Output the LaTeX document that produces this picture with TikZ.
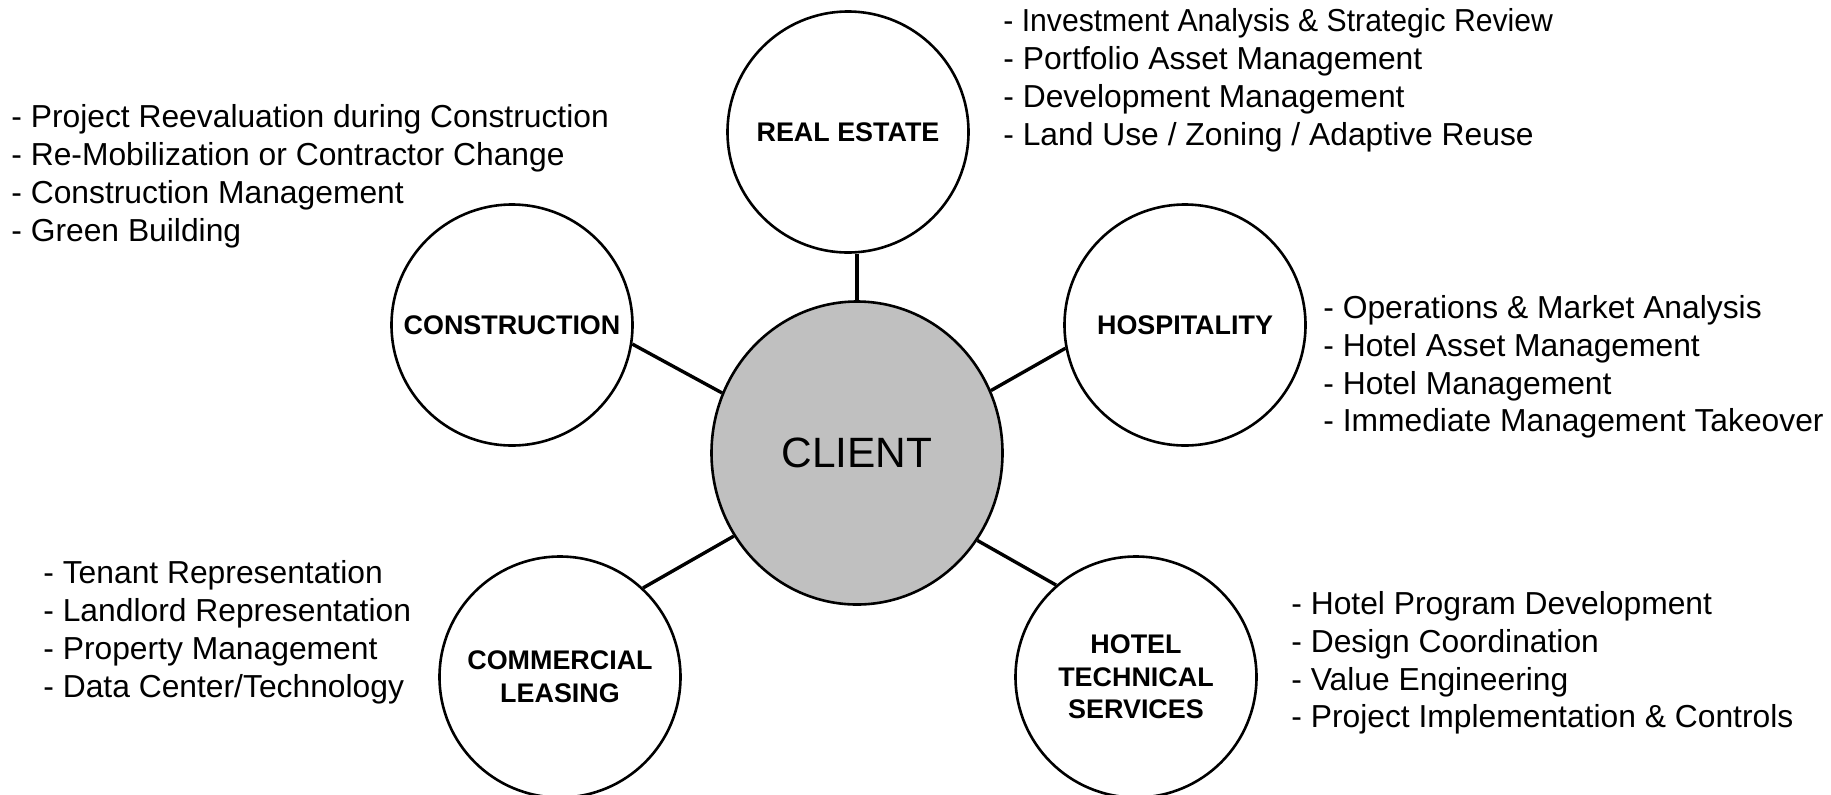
\documentclass[tikz,border=0pt]{standalone}
\usepackage{fontspec}
\setmainfont{Liberation Sans}
\usetikzlibrary{shapes.geometric}
\definecolor{silver}{HTML}{C0C0C0}
\begin{document}
\begin{tikzpicture}[x=0.5pt,y=-0.5pt,
  hub/.style={draw, line width=1.3pt, circle, minimum size=120.5pt, inner sep=0pt, align=center,
    font=\fontsize{13.45}{16.3}\selectfont\bfseries, fill=white},
  core/.style={draw, line width=1.3pt, ellipse, minimum width=145.5pt, minimum height=151.5pt,
    inner sep=0pt, fill=silver, font=\fontsize{21.2}{25}\selectfont},
  link/.style={line width=1.7pt},
  item/.style={anchor=base west, inner sep=0pt, font=\fontsize{15.9}{19}\selectfont}]
\useasboundingbox (0,0) rectangle (1831,794);

\node[core] (client) at (857,453) {CLIENT};
\node[hub] (re) at (848,132) {REAL ESTATE};
\node[hub] (cons) at (512,325) {CONSTRUCTION};
\node[hub] (hosp) at (1185,325) {HOSPITALITY};
\node[hub] (com) at (560,677) {COMMERCIAL\\LEASING};
\node[hub] (hts) at (1136,677) {HOTEL\\TECHNICAL\\SERVICES};

\draw[link] (client.north) -- (client.north |- re.south);
\draw[link] (cons.-9) -- (client.156.8);
\draw[link] (client.25.1) -- (hosp.191.5);
\draw[link] (client.214.5) -- (com.47);
\draw[link] (client.-36.5) -- (hts.131.4);

\foreach \t [count=\i] in {{\scalebox{0.948}[1]{- Investment Analysis \& Strategic Review}},{- Portfolio Asset Management},{- Development Management},{- Land Use / Zoning / Adaptive Reuse}}
  \node[item] (rel\i) at (1003,{31+38*(\i-1)}) {\t};
\foreach \t [count=\i] in {{- Project Reevaluation during Construction},{- Re-Mobilization or Contractor Change},{- Construction Management},{- Green Building}}
  \node[item] (consl\i) at (11,{127+38*(\i-1)}) {\t};
\foreach \t [count=\i] in {{- Operations \& Market Analysis},{- Hotel Asset Management},{- Hotel Management},{- Immediate Management Takeover}}
  \node[item] (hospl\i) at (1323,{318.5+37.8*(\i-1)}) {\t};
\foreach \t [count=\i] in {{- Tenant Representation},{- Landlord Representation},{- Property Management},{- Data Center/Technology}}
  \node[item] (coml\i) at (43,{583.5+38*(\i-1)}) {\t};
\foreach \t [count=\i] in {{- Hotel Program Development},{- Design Coordination},{- Value Engineering},{- Project Implementation \& Controls}}
  \node[item] (htsl\i) at (1291,{614.5+37.8*(\i-1)}) {\t};
\end{tikzpicture}
\end{document}
